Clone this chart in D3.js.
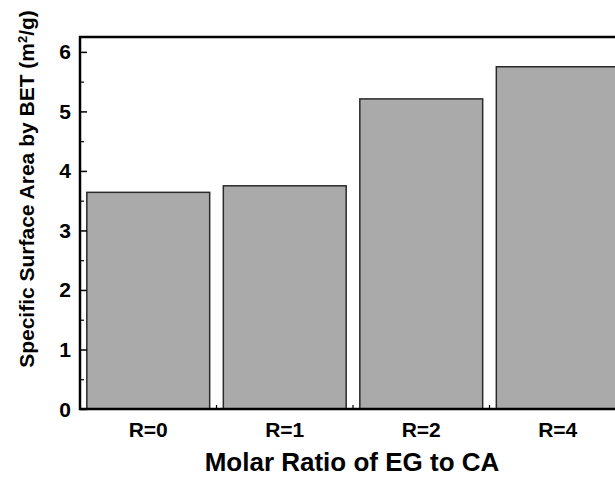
<!DOCTYPE html>
<html>
<head>
<meta charset="utf-8">
<script src="https://cdn.jsdelivr.net/npm/d3@7"></script>
<style>
  body { margin: 0; background: #fff; }
  text { font-family: "Liberation Sans", Arial, sans-serif; font-weight: bold; fill: #000; }
</style>
</head>
<body>
<div id="chart"></div>
<script>
const categories = ["R=0", "R=1", "R=2", "R=4"];
const values = [3.64, 3.75, 5.21, 5.75];
const yTicks = [0, 1, 2, 3, 4, 5, 6];

const W = 615, H = 478;
const margin = { top: 37, left: 80, bottom: 69 };
const plotRight = 626;

const svg = d3.select("#chart").append("svg")
  .attr("width", W)
  .attr("height", H);

const x = d3.scaleBand()
  .domain(categories)
  .range([margin.left, plotRight])
  .paddingInner(0.1)
  .paddingOuter(0.05);

const y = d3.scaleLinear()
  .domain([0, 6.25])
  .range([H - margin.bottom, margin.top]);

// bars
svg.selectAll(".bar")
  .data(values)
  .enter()
  .append("rect")
  .attr("class", "bar")
  .attr("x", (d, i) => x(categories[i]))
  .attr("y", d => y(d))
  .attr("width", x.bandwidth())
  .attr("height", d => y(0) - y(d))
  .attr("fill", "#aaaaaa")
  .attr("stroke", "#2a2a2a")
  .attr("stroke-width", 1.5);

// frame
svg.append("rect")
  .attr("x", margin.left)
  .attr("y", margin.top)
  .attr("width", plotRight - margin.left)
  .attr("height", y(0) - margin.top)
  .attr("fill", "none")
  .attr("stroke", "#000")
  .attr("stroke-width", 2.5);

// y axis: major ticks inward
svg.append("g")
  .attr("transform", `translate(${margin.left},0)`)
  .call(d3.axisRight(y).tickValues(yTicks).tickSize(7).tickFormat(""))
  .call(g => g.select(".domain").remove())
  .call(g => g.selectAll("line").attr("stroke", "#000").attr("stroke-width", 1.5));

// y minor ticks
svg.append("g")
  .attr("transform", `translate(${margin.left},0)`)
  .call(d3.axisRight(y).tickValues(d3.range(0.5, 6.5, 1)).tickSize(4).tickFormat(""))
  .call(g => g.select(".domain").remove())
  .call(g => g.selectAll("line").attr("stroke", "#000").attr("stroke-width", 1.2));

// y tick labels
svg.selectAll(".ylab")
  .data(yTicks)
  .enter()
  .append("text")
  .attr("class", "ylab")
  .attr("x", margin.left - 9)
  .attr("y", d => y(d) + 7.5)
  .attr("text-anchor", "end")
  .attr("font-size", "21px")
  .text(d => d);

// x minor ticks between bars
const gaps = categories.slice(1).map(c => x(c) - x.step() * x.paddingInner() / 2);
svg.selectAll(".xgap")
  .data(gaps)
  .enter()
  .append("line")
  .attr("x1", d => d)
  .attr("x2", d => d)
  .attr("y1", y(0))
  .attr("y2", y(0) - 4)
  .attr("stroke", "#000")
  .attr("stroke-width", 1.2);

// x tick labels
svg.selectAll(".xlab")
  .data(categories)
  .enter()
  .append("text")
  .attr("class", "xlab")
  .attr("x", d => x(d) + x.bandwidth() / 2)
  .attr("y", 437)
  .attr("text-anchor", "middle")
  .attr("font-size", "21px")
  .text(d => d);

// axis titles
svg.append("text")
  .attr("x", 352)
  .attr("y", 471)
  .attr("text-anchor", "middle")
  .attr("font-size", "26px")
  .text("Molar Ratio of EG to CA");

const yTitle = svg.append("text")
  .attr("transform", "translate(34,189) rotate(-90)")
  .attr("text-anchor", "middle")
  .attr("font-size", "21px");
yTitle.append("tspan").text("Specific Surface Area by BET (m");
yTitle.append("tspan").attr("baseline-shift", "super").attr("font-size", "13px").text("2");
yTitle.append("tspan").text("/g)");
</script>
</body>
</html>
